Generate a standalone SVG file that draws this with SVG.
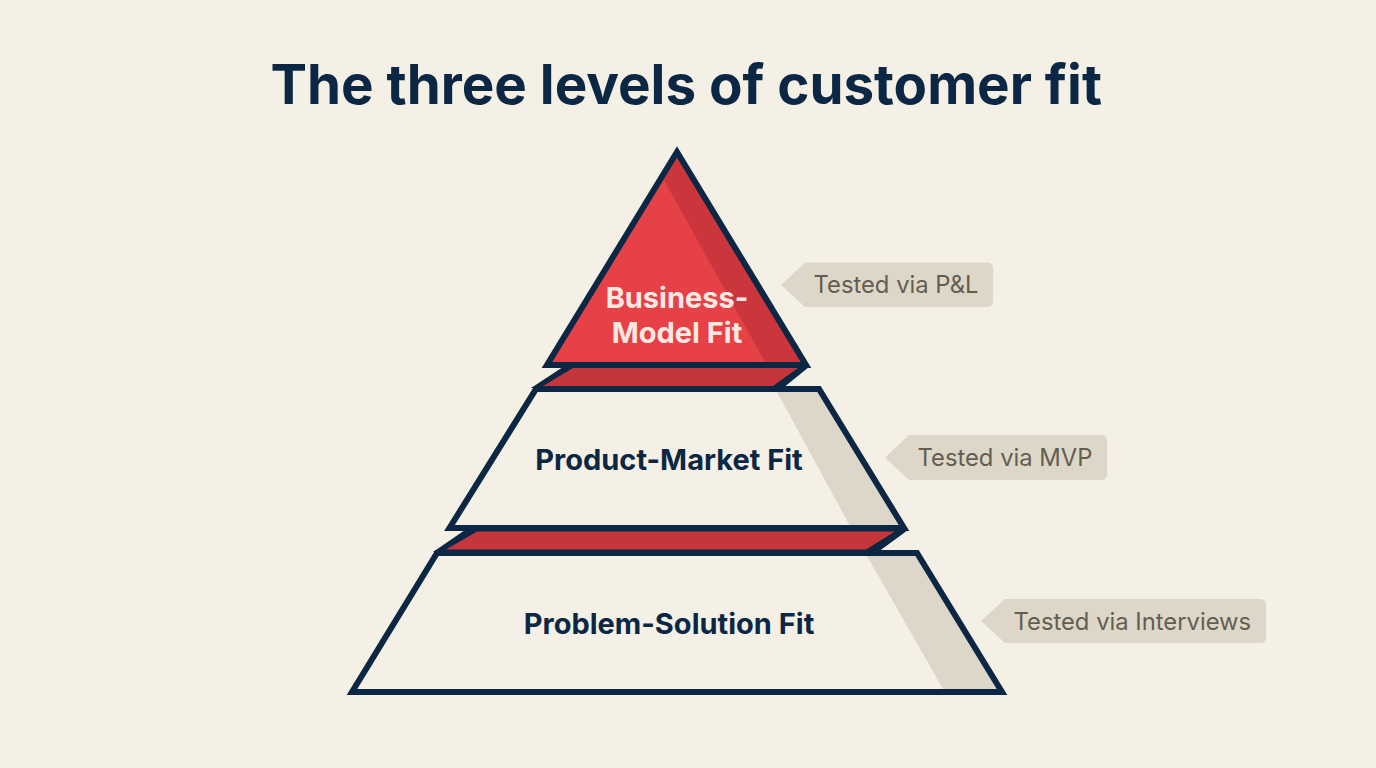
<svg xmlns="http://www.w3.org/2000/svg" width="1376" height="768" viewBox="0 0 1376 768">
<style>
text{font-family:Inter,"Liberation Sans",sans-serif}
.t{font-size:54.700px;font-weight:700;fill:#0b2744}
.l{font-size:29px;font-weight:700;fill:#0b2744;text-anchor:middle}
.w{font-size:29px;font-weight:700;fill:#fde9e2;text-anchor:middle}
.g{font-size:23.800px;fill:#655e50}
.o{stroke:#0b2744;stroke-width:6;stroke-linejoin:miter;stroke-miterlimit:10}
.tag,.sh{fill:#ddd7c9}
</style>
<rect width="1376" height="768" fill="#f4f0e5"/>
<text class="t" x="270.500" y="103.500">The three levels of customer fit</text>
<g id="band-upper">
<polygon points="563,367 531,388 783,388 809,367" fill="#0b2744"/>
<polygon points="573,368 543,386 773,386 798,368" fill="#c4363c"/>
</g>
<g id="band-lower">
<polygon points="465,530 433,552 878,552 908,530" fill="#0b2744"/>
<polygon points="477,531.500 446,549.500 866,549.500 895,531.500" fill="#c4363c"/>
</g>
<g id="level-business-model">
<polygon points="677,152 806,365 547,365" fill="#e54147"/>
<polygon points="664,180 677,158 803,362 765,362" fill="#cb363c"/>
<polygon class="o" points="677,152 806,365 547,365" fill="none"/>
<text class="w" x="677" y="308">Business-</text>
<text class="w" x="677" y="343">Model Fit</text>
</g>
<g id="level-product-market">
<polygon points="536,389 819,389 904,528 449.500,528" fill="#f4f0e5"/>
<polygon class="sh" points="777,392 818,392 900,526 850,526"/>
<polygon class="o" points="536,389 819,389 904,528 449.500,528" fill="none"/>
<text class="l" x="669" y="470">Product-Market Fit</text>
</g>
<g id="level-problem-solution">
<polygon points="437,553 917,553 1002,692 352,692" fill="#f4f0e5"/>
<polygon class="sh" points="867,556 917,556 998,689 943,689"/>
<polygon class="o" points="437,553 917,553 1002,692 352,692" fill="none"/>
<text class="l" x="669" y="634">Problem-Solution Fit</text>
</g>
<g id="tag-pl">
<path class="tag" d="M781,285 L805,262.500 H987 Q993,262.500 993,268 V301 Q993,307 987,307 H805 Z"/>
<text class="g" x="813.500" y="293">Tested via P&amp;L</text>
</g>
<g id="tag-mvp">
<path class="tag" d="M885,457.500 L909,435 H1101 Q1107,435 1107,441 V474 Q1107,480 1101,480 H909 Z"/>
<text class="g" x="917.500" y="466">Tested via MVP</text>
</g>
<g id="tag-interviews">
<path class="tag" d="M981,621 L1005,599 H1260 Q1266,599 1266,605 V637 Q1266,643 1260,643 H1005 Z"/>
<text class="g" x="1013.500" y="630">Tested via Interviews</text>
</g>
</svg>
